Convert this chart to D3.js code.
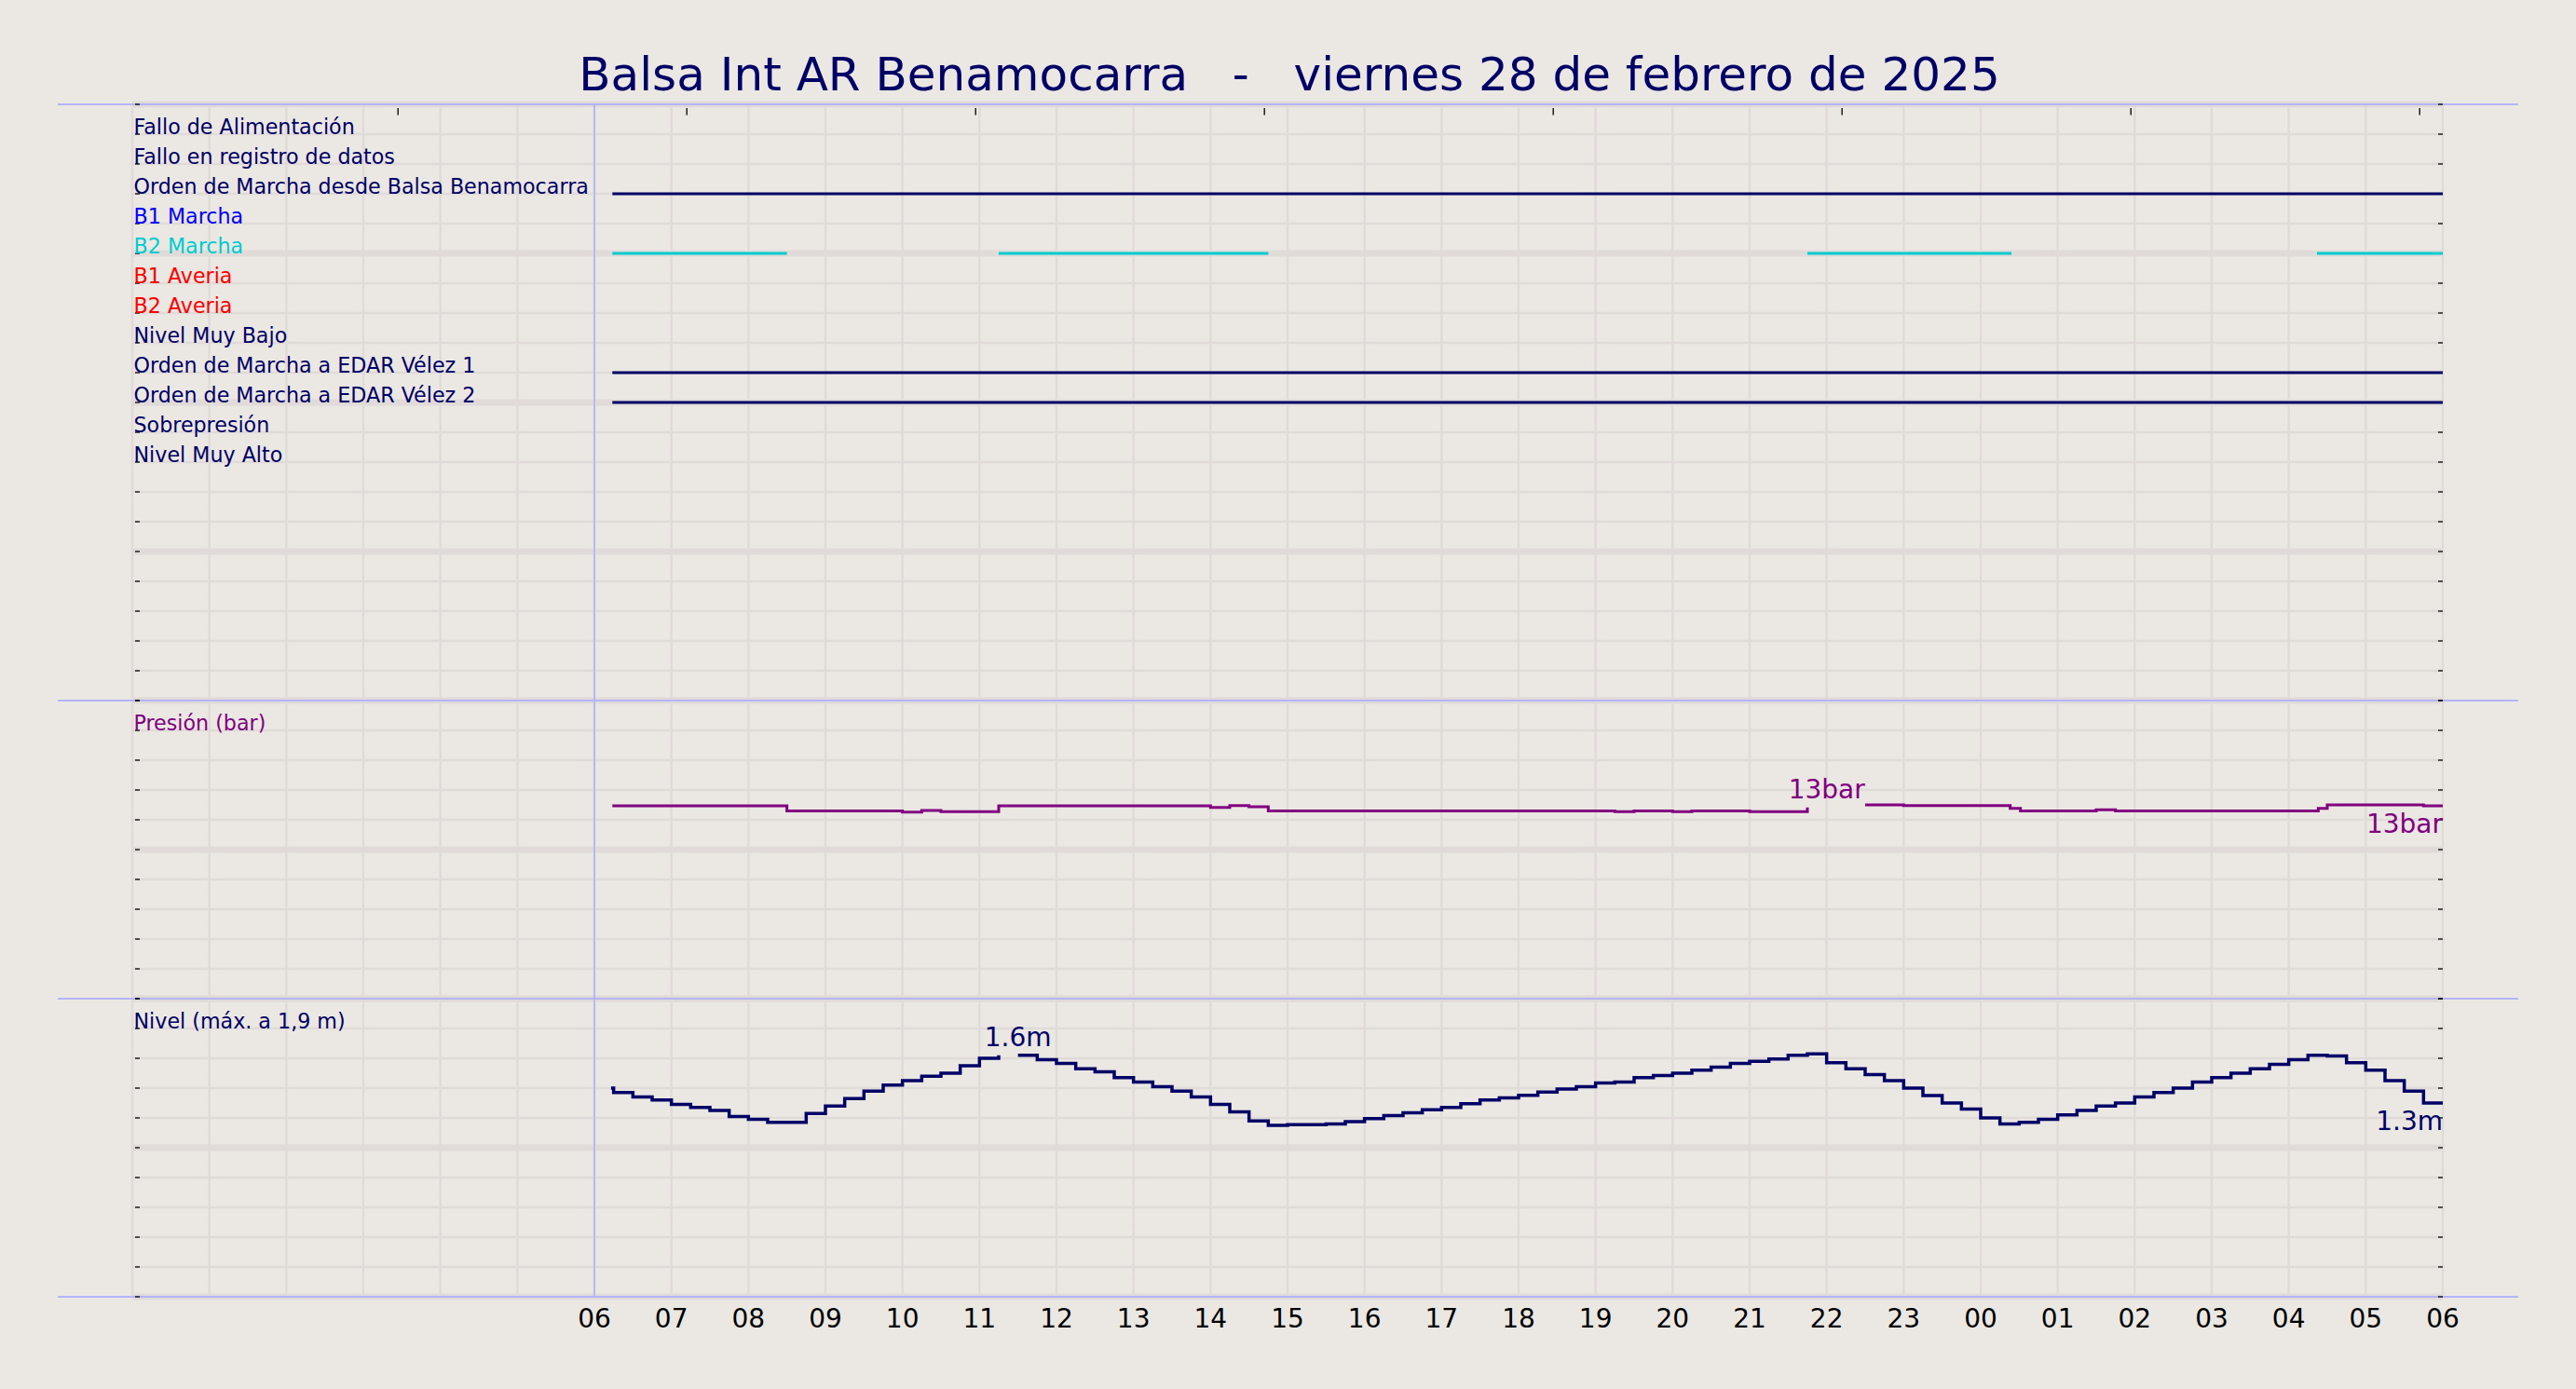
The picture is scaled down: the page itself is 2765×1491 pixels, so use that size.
<!DOCTYPE html>
<html><head><meta charset="utf-8">
<script src="https://cdn.jsdelivr.net/npm/d3@7"></script>
<style>
html,body{margin:0;padding:0;background:#ebe7e2;}
svg{display:block;font-family:"DejaVu Sans",sans-serif;}
</style></head><body>
<svg id="chart" width="2765" height="1491"></svg>
<script>
// ---------------- DATA ----------------
const titleText = "Balsa Int AR Benamocarra   -   viernes 28 de febrero de 2025";

const signalNames = [
  "Fallo de Alimentación",
  "Fallo en registro de datos",
  "Orden de Marcha desde Balsa Benamocarra",
  "B1 Marcha",
  "B2 Marcha",
  "B1 Averia",
  "B2 Averia",
  "Nivel Muy Bajo",
  "Orden de Marcha a EDAR Vélez 1",
  "Orden de Marcha a EDAR Vélez 2",
  "Sobrepresión",
  "Nivel Muy Alto"
];
// on-intervals per signal (HH:MM start, HH:MM end)
const falloAlimOn = [];
const falloRegistroOn = [];
const ordenBalsaOn = [["06:14", "06:00"]];
const b1MarchaOn = [];
const b2MarchaOn = [["06:14", "08:30"], ["11:15", "14:45"], ["21:45", "00:24"], ["04:22", "06:00"]];
const b1AveriaOn = [];
const b2AveriaOn = [];
const nivelMuyBajoOn = [];
const edar1On = [["06:14", "06:00"]];
const edar2On = [["06:14", "06:00"]];
const sobrepresionOn = [];
const nivelMuyAltoOn = [];

const pressureLabel = "Presión (bar)";
const pressureTimes = ["06:14","08:30","10:00","10:15","10:30","11:15","14:00","14:15","14:30","14:45",
  "19:15","19:30","20:00","20:15","21:00","21:45","21:50","22:30","23:00","00:23","00:31",
  "01:30","01:45","04:23","04:30","05:45","06:00"];
const pressureValues = [12.94,12.60,12.52,12.625,12.54,12.94,12.83,12.96,12.875,12.60,
  12.54,12.60,12.54,12.60,12.54,12.83,null,13.00,12.96,12.77,12.60,
  12.67,12.60,12.77,13.00,12.94,12.94];
const pressureNoteTimes = ["22:00", "06:00"];
const pressureNoteValues = [12.83, 12.94];
const pressureNoteTexts = ["13bar", "13bar"];

const levelLabel = "Nivel (máx. a 1,9 m)";
const levelTimes = ["06:13","06:15","06:30","06:45","07:00","07:15","07:30","07:45","08:00","08:15","08:30","08:45",
  "09:00","09:15","09:30","09:45","10:00","10:15","10:30","10:45","11:00","11:15","11:20","11:30","11:45",
  "12:00","12:15","12:30","12:45","13:00","13:15","13:30","13:45","14:00","14:15","14:30","14:45",
  "15:00","15:15","15:30","15:45","16:00","16:15","16:30","16:45","17:00","17:15","17:30","17:45",
  "18:00","18:15","18:30","18:45","19:00","19:15","19:30","19:45","20:00","20:15","20:30","20:45",
  "21:00","21:15","21:30","21:45","22:00","22:15","22:30","22:45","23:00","23:15","23:30","23:45",
  "00:00","00:15","00:30","00:45","01:00","01:15","01:30","01:45","02:00","02:15","02:30","02:45",
  "03:00","03:15","03:30","03:45","04:00","04:15","04:30","04:45","05:00","05:15","05:30","05:45","06:00"];
const levelValues = [1.40,1.37,1.34,1.32,1.29,1.27,1.25,1.21,1.19,1.17,1.17,1.23,
  1.28,1.33,1.38,1.42,1.45,1.48,1.50,1.55,1.60,1.62,null,1.62,1.59,
  1.565,1.53,1.51,1.47,1.44,1.41,1.38,1.34,1.29,1.24,1.18,1.15,
  1.155,1.155,1.16,1.175,1.195,1.215,1.235,1.255,1.27,1.295,1.32,1.335,
  1.352,1.373,1.394,1.41,1.435,1.44,1.47,1.485,1.50,1.52,1.54,1.565,
  1.58,1.595,1.62,1.63,1.57,1.53,1.49,1.45,1.40,1.35,1.30,1.26,
  1.20,1.16,1.17,1.19,1.22,1.25,1.28,1.30,1.34,1.37,1.40,1.44,
  1.47,1.50,1.53,1.56,1.59,1.62,1.615,1.57,1.52,1.45,1.38,1.30,1.30];
const levelNoteTimes = ["11:30", "06:00"];
const levelNoteValues = [1.62, 1.30];
const levelNoteTexts = ["1.6m", "1.3m"];

const topTickTimes = ["03:27","07:12","10:57","14:42","18:27","22:12","01:57","05:42"];

// ---------------- STYLE / LAYOUT ----------------
const NAVY = "#000066", PURPLE = "#800080", CYAN = "#00ccd0", LAV = "#b4b4f8";
const GRID = "#e0dbd9";
const signalLabelColors = [NAVY, NAVY, NAVY, "#0000ff", "#00ccd0", "#ff0000", "#ff0000", NAVY, NAVY, NAVY, NAVY, NAVY];
const signalLineColors  = [NAVY, NAVY, NAVY, "#0000ff", CYAN, "#ff0000", "#ff0000", NAVY, NAVY, NAVY, NAVY, NAVY];
const signalIntervals = [falloAlimOn, falloRegistroOn, ordenBalsaOn, b1MarchaOn, b2MarchaOn, b1AveriaOn,
  b2AveriaOn, nivelMuyBajoOn, edar1On, edar2On, sobrepresionOn, nivelMuyAltoOn];

const X0 = 142, X1 = 2622;
const P1 = [112, 752], P2 = [752, 1072], P3 = [1072, 1392];

// ---------------- HELPERS ----------------
const dayStart = new Date(2025, 1, 28, 0, 0);
const dataStart = new Date(2025, 1, 28, 6, 0);
function atOrAfter(hhmm, ref) {
  const [h, m] = hhmm.split(":").map(Number);
  const d = new Date(ref); d.setHours(h, m, 0, 0);
  if (d < ref) d.setDate(d.getDate() + 1);
  return d;
}
function parseSeq(times, ref) {
  let r = ref; return times.map(s => { r = atOrAfter(s, r); return r; });
}

// ---------------- SCALES ----------------
const x = d3.scaleTime().domain([dayStart, new Date(2025, 2, 1, 6, 0)]).range([X0, X1]);
const ySig = d3.scaleLinear().domain([0, 20]).range([P1[1], P1[0]]);
const yP = d3.scaleLinear().domain([0, 20]).range([P2[1], P2[0]]);
const yL = d3.scaleLinear().domain([0, 2]).range([P3[1], P3[0]]);

const svg = d3.select("#chart");
svg.append("rect").attr("width", 2765).attr("height", 1491).attr("fill", "#ebe7e2");

// ---------------- GRID ----------------
const g = svg.append("g");
const hours = d3.timeHour.range(dayStart, d3.timeHour.offset(x.domain()[1], 1));
g.selectAll(".vg").data(hours).join("line")
  .attr("x1", d => x(d)).attr("x2", d => x(d)).attr("y1", P1[0]).attr("y2", P3[1])
  .attr("stroke", GRID).attr("stroke-width", 2.5);

const rows = [];
d3.range(0, 21).forEach(v => rows.push({ y: ySig(v), major: v % 5 === 0 }));
d3.range(0, 21, 2).forEach(v => rows.push({ y: yP(v), major: v % 10 === 0 }));
d3.range(0, 11).forEach(i => rows.push({ y: yL(i / 5), major: i % 5 === 0 }));
g.selectAll(".hg").data(rows).join("line")
  .attr("x1", X0).attr("x2", X1).attr("y1", d => d.y).attr("y2", d => d.y)
  .attr("stroke", GRID).attr("stroke-width", d => d.major ? 7 : 2.5);

// separators
[P1[0], P2[0], P3[0], P3[1]].forEach(yy => {
  svg.append("line").attr("x1", 62).attr("x2", 2703).attr("y1", yy).attr("y2", yy)
    .attr("stroke", LAV).attr("stroke-width", 1.8);
});
svg.append("line").attr("x1", x(dataStart)).attr("x2", x(dataStart)).attr("y1", P1[0]).attr("y2", P3[1])
  .attr("stroke", LAV).attr("stroke-width", 1.8);

// y ticks (left & right, inward)
const tickYs = rows.map(d => d.y);
svg.selectAll(".lt").data(tickYs).join("line")
  .attr("x1", X0 + 3).attr("x2", X0 + 8).attr("y1", d => d).attr("y2", d => d)
  .attr("stroke", "#000").attr("stroke-width", 1.3);
svg.selectAll(".rt").data(tickYs).join("line")
  .attr("x1", X1 - 5).attr("x2", X1).attr("y1", d => d).attr("y2", d => d)
  .attr("stroke", "#000").attr("stroke-width", 1.3);

// top ticks
const topTicks = parseSeq(topTickTimes, dayStart);
svg.selectAll(".tt").data(topTicks).join("line")
  .attr("x1", d => x(d)).attr("x2", d => x(d)).attr("y1", 116).attr("y2", 123.5)
  .attr("stroke", "#000").attr("stroke-width", 1.3);

// bottom axis labels
const axisHours = d3.timeHour.range(dataStart, d3.timeHour.offset(x.domain()[1], 1));
svg.selectAll(".xl").data(axisHours).join("text")
  .attr("x", d => x(d)).attr("y", 1425).attr("text-anchor", "middle")
  .attr("font-size", 28).attr("fill", "#000").text(d3.timeFormat("%H"));

// ---------------- SIGNALS ----------------
signalNames.forEach((name, i) => {
  const yy = ySig(19 - i);
  signalIntervals[i].forEach(([a, b]) => {
    const s = atOrAfter(a, dataStart), e = atOrAfter(b, s);
    svg.append("line").attr("x1", x(s)).attr("x2", x(e)).attr("y1", yy).attr("y2", yy)
      .attr("stroke", signalLineColors[i]).attr("stroke-width", 3);
  });
  svg.append("text").attr("x", X0 + 1.5).attr("y", yy).attr("font-size", 22.2)
    .attr("fill", signalLabelColors[i]).text(name);
});

// ---------------- PRESSURE ----------------
const pData = parseSeq(pressureTimes, dataStart).map((t, i) => ({ t, v: pressureValues[i] }));
svg.append("path").datum(pData)
  .attr("d", d3.line().defined(d => d.v != null).x(d => x(d.t)).y(d => yP(d.v)).curve(d3.curveStepAfter))
  .attr("fill", "none").attr("stroke", PURPLE).attr("stroke-width", 3);
svg.append("text").attr("x", X0 + 1.5).attr("y", yP(18)).attr("font-size", 22.2).attr("fill", PURPLE).text(pressureLabel);
pressureNoteTimes.forEach((tt, i) => {
  const t = atOrAfter(tt, dataStart);
  const last = i === pressureNoteTimes.length - 1;
  const tx = last ? x.range()[1] : x(t);
  svg.append("text").attr("x", tx)
    .attr("y", yP(pressureNoteValues[i]) + (last ? 29 : -10))
    .attr("text-anchor", last ? "end" : "middle").attr("font-size", 28).attr("fill", PURPLE)
    .text(pressureNoteTexts[i]);
});

// ---------------- LEVEL ----------------
const lData = parseSeq(levelTimes, dataStart).map((t, i) => ({ t, v: levelValues[i] }));
svg.append("path").datum(lData)
  .attr("d", d3.line().defined(d => d.v != null).x(d => x(d.t)).y(d => yL(d.v)).curve(d3.curveStepAfter))
  .attr("fill", "none").attr("stroke", NAVY).attr("stroke-width", 3.5);
svg.append("text").attr("x", X0 + 1.5).attr("y", yL(1.8)).attr("font-size", 22.2).attr("fill", NAVY).text(levelLabel);
levelNoteTimes.forEach((tt, i) => {
  const t = atOrAfter(tt, dataStart);
  const last = i === levelNoteTimes.length - 1;
  const tx = last ? x.range()[1] : x(t);
  svg.append("text").attr("x", tx)
    .attr("y", yL(levelNoteValues[i]) + (last ? 29 : -10))
    .attr("text-anchor", last ? "end" : "middle").attr("font-size", 28).attr("fill", NAVY)
    .text(levelNoteTexts[i]);
});

// ---------------- TITLE ----------------
svg.append("text").attr("x", 1384).attr("y", 97).attr("text-anchor", "middle")
  .attr("font-size", 50).attr("fill", NAVY).style("white-space", "pre").text(titleText);
</script>
</body></html>
